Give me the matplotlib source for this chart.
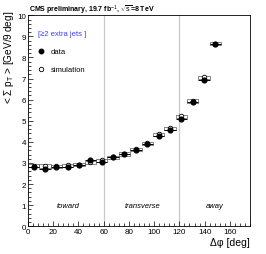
import matplotlib
matplotlib.use("Agg")
import matplotlib.pyplot as plt
import numpy as np
from matplotlib.patches import Rectangle
from matplotlib.ticker import MultipleLocator

plt.rcParams['font.family'] = ['Liberation Sans', 'DejaVu Sans']
plt.rcParams['mathtext.fontset'] = 'custom'
plt.rcParams['mathtext.rm'] = 'Liberation Sans'
plt.rcParams['mathtext.it'] = 'Liberation Sans:italic'
plt.rcParams['mathtext.bf'] = 'Liberation Sans:bold'
plt.rcParams['mathtext.sf'] = 'Liberation Sans'

bin_centers = [4.5, 13.5, 22.5, 31.5, 40.5, 49.5, 58.5, 67.5, 76.5, 85.5,
               94.5, 103.5, 112.5, 121.5, 130.5, 139.5, 148.5]
data_vals = [2.82, 2.73, 2.83, 2.79, 2.89, 3.14, 3.05, 3.27, 3.42, 3.63,
             3.91, 4.28, 4.56, 5.08, 5.91, 6.95, 8.62]
sim_vals = [2.87, 2.85, 2.84, 2.89, 2.92, 3.03, 3.12, 3.27, 3.42, 3.65,
            3.93, 4.36, 4.64, 5.21, 5.93, 7.06, 8.65]
bin_half = 4.5
sim_err = 0.08
data_err = 0.04
region_labels = ["toward", "transverse", "away"]
region_x = [31.5, 90.5, 148]
region_lines = [60, 120]

fig = plt.figure(figsize=(2.66, 2.55), dpi=100)
ax = fig.add_axes([0.105, 0.109, 0.835, 0.827])

for x in region_lines:
    ax.axvline(x, color='#c8c8c8', lw=0.9, zorder=0)

for x, y in zip(bin_centers, sim_vals):
    ax.add_patch(Rectangle((x - bin_half, y - sim_err), 2 * bin_half, 2 * sim_err,
                           fill=False, edgecolor='#555555', lw=0.5, zorder=2))
ax.plot(bin_centers, sim_vals, 'o', mfc='white', mec='black', ms=3.3, mew=0.6,
        ls='none', zorder=3)
ax.errorbar(bin_centers, data_vals, xerr=bin_half, yerr=data_err, fmt='o',
            color='black', ms=3.4, elinewidth=0.7, capsize=0, zorder=4)

ax.set_xlim(0, 176)
ax.set_ylim(0, 10)
ax.xaxis.set_major_locator(MultipleLocator(20))
ax.xaxis.set_minor_locator(MultipleLocator(4))
ax.yaxis.set_major_locator(MultipleLocator(1))
ax.yaxis.set_minor_locator(MultipleLocator(0.2))
ax.tick_params(which='both', direction='in', labelsize=5.8, pad=1.5, width=0.5)
ax.tick_params(which='major', length=3.5)
ax.tick_params(which='minor', length=2)
for s in ax.spines.values():
    s.set_linewidth(0.6)

for lab, x in zip(region_labels, region_x):
    ax.text(x, 1.0, lab, style='italic', fontsize=5.5, ha='center', va='center')

ax.text(0.045, 0.916, '[\u22652 extra jets ]', transform=ax.transAxes,
        color='#4040ff', fontsize=5.5, va='center')
ax.plot([0.059], [0.83], 'o', color='black', ms=3.2, transform=ax.transAxes, clip_on=False)
ax.text(0.104, 0.83, 'data', transform=ax.transAxes, fontsize=5.5, va='center')
ax.plot([0.059], [0.745], 'o', mfc='white', mec='black', ms=3.2, mew=0.6,
        transform=ax.transAxes, clip_on=False)
ax.text(0.104, 0.745, 'simulation', transform=ax.transAxes, fontsize=5.5, va='center')

fig.text(0.11, 0.96, 'CMS preliminary, 19.7 fb$^{-1}$, $\\sqrt{\\mathrm{s}}$=8 TeV',
         fontsize=5, fontweight='bold', va='center')
ax.set_xlabel('\u0394\u03c6 [deg]', fontsize=7.5, loc='right', labelpad=1)
ax.set_ylabel('< \u03a3 p$_{\\mathrm{T}}$ > [GeV/9 deg]', fontsize=7.2,
              ha='right', va='center')
ax.yaxis.label.set_rotation_mode('anchor')
ax.yaxis.set_label_coords(-0.085, 1.025)

fig.savefig('out.png', dpi=100)
